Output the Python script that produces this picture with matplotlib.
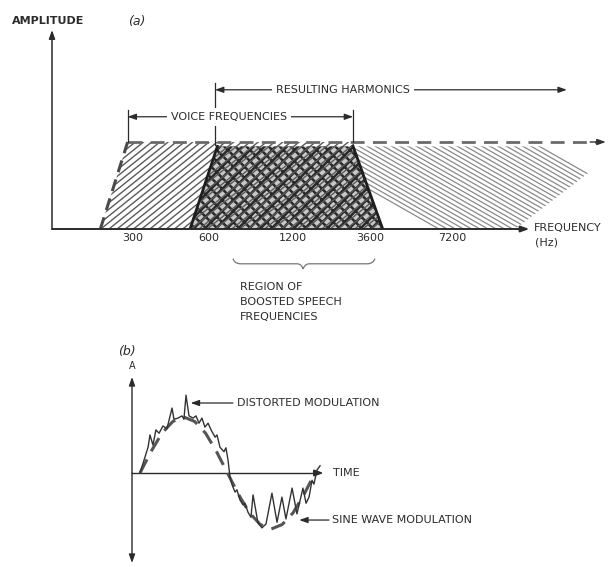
import numpy as np
import matplotlib.pyplot as plt
from matplotlib.patches import Polygon, PathPatch
from matplotlib.path import Path

# ---- (a) spectrum sketch, frequency axis is schematic (not to scale)
freq_labels = ['300', '600', '1200', '3600', '7200']
freq_pos = [1.03, 2.01, 3.09, 4.08, 5.13]

voice_band = [(0.62, 0.0), (0.97, 1.0), (3.86, 1.0), (4.24, 0.0)]
boosted_band = [(1.77, 0.0), (2.12, 0.95), (3.86, 0.95), (4.24, 0.0)]
harmonic_band = [(3.86, 0.95), (6.29, 0.95), (6.90, 0.66), (5.94, 0.0), (4.24, 0.0)]

# ---- (b) one period of modulation, time in periods, amplitude normalised
sine_t = [0, 0.0625, 0.125, 0.1875, 0.25, 0.3125, 0.375, 0.4375, 0.5,
          0.5625, 0.625, 0.6875, 0.75, 0.8125, 0.875, 0.9375, 1.0]
sine_a = [0, 0.38, 0.71, 0.92, 1.0, 0.92, 0.71, 0.38, 0,
          -0.38, -0.71, -0.92, -1.0, -0.92, -0.71, -0.38, 0]

dist_t = [0.000, 0.029, 0.046, 0.057, 0.074, 0.091, 0.109, 0.131, 0.154, 0.183,
          0.194, 0.217, 0.240, 0.251, 0.263, 0.280, 0.303, 0.320, 0.337, 0.354,
          0.371, 0.389, 0.406, 0.429, 0.440, 0.457, 0.480, 0.491, 0.503, 0.514,
          0.526, 0.543, 0.554, 0.571, 0.589, 0.600, 0.617, 0.634, 0.646, 0.674,
          0.697, 0.720, 0.754, 0.783, 0.811, 0.834, 0.869, 0.897, 0.931, 0.949,
          0.966, 0.983, 0.994, 1.011, 1.029]
dist_a = [0.00, 0.29, 0.46, 0.68, 0.50, 0.77, 0.71, 0.84, 0.79, 1.16,
          0.96, 0.98, 1.02, 0.96, 1.39, 1.02, 0.98, 1.02, 0.89, 0.98,
          0.82, 0.89, 0.77, 0.64, 0.68, 0.46, 0.38, 0.45, 0.23, -0.07,
          -0.21, -0.34, -0.30, -0.48, -0.57, -0.54, -0.70, -0.79, -0.39, -0.89,
          -0.98, -0.91, -0.36, -0.88, -0.43, -0.82, -0.27, -0.73, -0.27, -0.54,
          -0.43, -0.13, -0.20, 0.05, 0.13]

W, H = 614, 567
plt.rcParams['font.family'] = 'DejaVu Sans'
plt.rcParams['hatch.linewidth'] = 1.8
ink = '#2b2b2b'
txt = dict(fontsize=8, color=ink)

def box(x0, y0, x1, y1):
    # pixel box (top-left origin) -> figure fraction
    return [x0 / W, 1 - y1 / H, (x1 - x0) / W, (y1 - y0) / H]

def arrow(ax, p0, p1, style='-|>', lw=1.0, color=ink):
    ax.annotate('', xy=p1, xytext=p0, annotation_clip=False,
                arrowprops=dict(arrowstyle=style + ',head_length=0.5,head_width=0.18',
                                lw=lw, color=color, shrinkA=0, shrinkB=0))

fig = plt.figure(figsize=(W / 100, H / 100), dpi=100)

# ================= panel (a)
ax = fig.add_axes(box(52, 30, 614, 229))
ax.set_xlim(0, 562 / 78)
ax.set_ylim(0, 199 / 87)
ax.axis('off')

# voice band, "/" hatching
vp = Polygon(voice_band, closed=True, fc='white', ec='none')
ax.add_patch(vp)
for c in np.arange(-2.0, 5.0, 0.105):
    ln, = ax.plot([c, c + 3], [0, 3 * 0.72], color='#5a5a5a', lw=1.0)
    ln.set_clip_path(vp)

# harmonics, "\" hatching
hp = Polygon(harmonic_band, closed=True, fc='white', ec='none')
ax.add_patch(hp)
for c in np.arange(3.0, 8.5, 0.105):
    ln, = ax.plot([c - 1, c + 3], [1 + 0.51, 1 - 3 * 0.51], color='#8a8a8a', lw=0.9)
    ln.set_clip_path(hp)

# boosted speech region, dense mesh
bp = Polygon(boosted_band, closed=True, fc='#c8c8c8', ec='#2a2a2a', hatch='xxx', lw=0)
ax.add_patch(bp)
bx, by = zip(*boosted_band)
ax.plot(bx[:2], by[:2], color='#1e1e1e', lw=2)
ax.plot(bx[2:], by[2:], color='#1e1e1e', lw=2)

# dashed envelope
ax.plot([voice_band[0][0], voice_band[1][0]], [0, 1.0], color='#4a4a4a', lw=2.2,
        dashes=(4, 2.5))
ax.plot([voice_band[1][0], 7.0], [1.0, 1.0], color='#6a6a6a', lw=2.0, dashes=(5, 3))
arrow(ax, (6.9, 1.0), (7.1, 1.0), color='#333333')

# axes
arrow(ax, (0, 0), (0, 199 / 87), lw=1.1)
arrow(ax, (0, 0), (6.12, 0), lw=1.4)

for p, lab in zip(freq_pos, freq_labels):
    ax.text(p, -0.10, lab, ha='center', va='center', **txt)

ax.text(6.18, 0.01, 'FREQUENCY', ha='left', va='center', **txt)
ax.text(6.19, -0.16, '(Hz)', ha='left', va='center', **txt)

# voice frequencies bracket
v0, v1 = voice_band[1][0], voice_band[2][0]
for u in (v0, v1):
    ax.plot([u, u], [1.0, 1.37], color=ink, lw=0.9)
arrow(ax, (2.27, 1.29), (v0, 1.29), lw=0.9)
arrow(ax, (2.27, 1.29), (v1, 1.29), lw=0.9)
ax.text(2.27, 1.29, 'VOICE FREQUENCIES', ha='center', va='center',
        bbox=dict(fc='white', ec='none', pad=3), **txt)

# resulting harmonics bracket
h0 = 2.09
ax.plot([h0, h0], [0.97, 1.68], color=ink, lw=0.9)
arrow(ax, (3.73, 1.6), (h0, 1.6), lw=0.9)
arrow(ax, (3.73, 1.6), (6.6, 1.6), lw=0.9)
ax.text(3.73, 1.6, 'RESULTING HARMONICS', ha='center', va='center',
        bbox=dict(fc='white', ec='none', pad=3), **txt)

# brace under 600..3600
verts = [(2.32, -0.34), (2.34, -0.40), (2.42, -0.40),
         (3.14, -0.40),
         (3.20, -0.40), (3.22, -0.46), (3.22, -0.46),
         (3.24, -0.40), (3.30, -0.40),
         (4.04, -0.40),
         (4.12, -0.40), (4.14, -0.34)]
codes = [Path.MOVETO, Path.CURVE3, Path.CURVE3, Path.LINETO,
         Path.CURVE3, Path.CURVE3, Path.MOVETO, Path.CURVE3, Path.CURVE3,
         Path.LINETO, Path.CURVE3, Path.CURVE3]
ax.add_patch(PathPatch(Path(verts, codes), fc='none', ec='#777777', lw=0.9,
                       clip_on=False))
for i, line in enumerate(['REGION OF', 'BOOSTED SPEECH', 'FREQUENCIES']):
    ax.text(2.41, -0.67 - i * 0.172, line, ha='left', va='center', **txt)

fig.text(12 / W, 1 - 21 / H, 'AMPLITUDE', ha='left', va='center', fontsize=8,
         color=ink, fontweight='bold')
fig.text(128 / W, 1 - 21 / H, '(a)', ha='left', va='center', fontsize=9,
         color=ink, style='italic')

# ================= panel (b)
bx0 = -8 / 175
ax2 = fig.add_axes(box(132, 370, 614, 565))
ax2.set_xlim(bx0, bx0 + 482 / 175)
ax2.set_ylim(-92 / 56, 103 / 56)
ax2.axis('off')

arrow(ax2, (bx0, 0), (bx0, 96 / 56), lw=1.0)
arrow(ax2, (bx0, 0), (bx0, -90 / 56), lw=1.0)
ax2.plot([bx0, 1.0], [0, 0], color=ink, lw=1.0)
arrow(ax2, (1.0, 0), (1.05, 0), lw=1.4)

ax2.plot(sine_t, sine_a, color='#555555', lw=2.2, dashes=(5, 3))
ax2.plot(dist_t, dist_a, color='#333333', lw=1.0)

ax2.text(bx0, 107 / 56, 'A', ha='center', va='center', fontsize=7, color=ink)
ax2.text(1.103, 0, 'TIME', ha='left', va='center', **txt)
ax2.text(0.554, 1.25, 'DISTORTED MODULATION', ha='left', va='center', **txt)
arrow(ax2, (0.531, 1.25), (0.29, 1.25), lw=0.9)
ax2.text(1.097, -0.84, 'SINE WAVE MODULATION', ha='left', va='center', **txt)
arrow(ax2, (1.08, -0.84), (0.91, -0.84), lw=0.9)

fig.text(118 / W, 1 - 352 / H, '(b)', ha='left', va='center', fontsize=9,
         color=ink, style='italic')

fig.savefig('out.png', dpi=100, facecolor='white')
